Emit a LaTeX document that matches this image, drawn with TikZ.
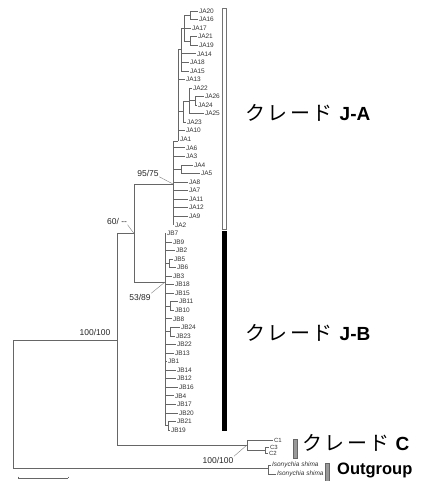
\documentclass[tikz,border=0pt]{standalone}
\usepackage{fontspec}
\usetikzlibrary{calc}
\setmainfont{Liberation Sans}
\newfontfamily\cjk{Noto Sans CJK JP}
\newcommand\kurede{{\cjk\fontsize{20}{20}\selectfont ク\kern2.5ptレ\kern2.5ptー\kern2.5ptド}}
\begin{document}
\begin{tikzpicture}[x=1pt,y=-1pt,
  br/.style={draw=black!60,line width=0.7pt},
  lf/.style={anchor=west,inner sep=0.8pt,font=\fontsize{6.5}{7}\selectfont,text=black!80},
  lfs/.style={lf,font=\fontsize{6}{7}\selectfont},
  lfi/.style={lf,font=\fontsize{6.5}{7}\selectfont\itshape},
  bs/.style={inner sep=0.5pt,font=\fontsize{8.5}{9}\selectfont,text=black!85},
  ld/.style={draw=black!50,line width=0.4pt},
  clade/.style={anchor=west,inner sep=0pt},
]
\useasboundingbox (0,0) rectangle (420,481);
% internal nodes
\coordinate (R) at (13,400);
\coordinate (JC) at (117,340);
\coordinate (OG) at (268,468);
\coordinate (J) at (134,233.5);
\coordinate (C) at (247,445);
\coordinate (PC) at (265,450.5);
\coordinate (JA) at (173,184);
\coordinate (JB) at (165,282);
\coordinate (U) at (178,141);
\coordinate (X) at (181,49);
\coordinate (A) at (184,28.1);
\coordinate (P2016) at (190,15.3);
\coordinate (P2119) at (190,41);
\coordinate (Y) at (183,111);
\coordinate (Z) at (189,101);
\coordinate (W) at (195,100.8);
\coordinate (P45) at (181,169.2);
\coordinate (P56) at (169,263.2);
\coordinate (P1110) at (170,305.9);
\coordinate (P2423) at (170,331.7);
\coordinate (P2119b) at (168,425.7);
% leaves
\foreach \n/\x/\y in {JA20/198/11,JA16/198/19.6,JA17/191/28.1,JA21/197/36.7,JA19/198/45.2,
  JA14/196/53.8,JA18/189/62.3,JA15/189/70.9,JA13/185/79.4,JA22/192/88,JA26/204/96.5,
  JA24/197/105,JA25/204/113.6,JA23/186/122,JA10/185/130.7,JA1/179/139,JA6/185/147.8,
  JA3/185/156.3,JA4/193/164.9,JA5/200/173.5,JA8/188/182,JA7/188/190.6,JA11/188/199.1,
  JA12/188/207.7,JA9/188/216.2,JA2/174/224.8,
  JB7/166/233.3,JB9/172/241.9,JB2/175/250.4,JB5/173/259,JB6/176/267.5,JB3/172/276.1,
  JB18/174/284.6,JB15/174/293.2,JB11/178/301.7,JB10/174/310.3,JB8/172/318.8,
  JB24/180/327.4,JB23/175/335.9,JB22/176/344.5,JB13/174/353,JB1/167/361.6,
  JB14/176/370.1,JB12/176/378.7,JB16/178/387.2,JB4/174/395.8,JB17/176/404.3,
  JB20/178/412.9,JB21/176/421.4,JB19/170/430}
  \node[lf] (\n) at (\x,\y) {\n};
\node[lfs] (C1) at (273,440) {C1};
\node[lfs] (C3) at (269,447.5) {C3};
\node[lfs] (C2) at (268,453.5) {C2};
\node[lfi] (og1) at (271,465) {Isonychia shima};
\node[lfi] (og2) at (276,474) {Isonychia shima};
% internal branches
\foreach \p/\c in {R/JC,JC/J,JC/C,J/JA,J/JB,JA/U,JA/P45,U/X,U/Y,X/A,A/P2016,A/P2119,
  Y/Z,Z/W,JB/P56,JB/P1110,JB/P2423,JB/P2119b,C/PC}
  \draw[br] (\p) |- (\c);
\draw[br] (R) |- (OG);
% leaf branches
\foreach \p/\c in {P2016/JA20,P2016/JA16,A/JA17,P2119/JA21,P2119/JA19,X/JA14,X/JA18,X/JA15,
  U/JA13,Z/JA22,W/JA26,W/JA24,Z/JA25,Y/JA23,U/JA10,U/JA1,JA/JA6,JA/JA3,P45/JA4,P45/JA5,
  JA/JA8,JA/JA7,JA/JA11,JA/JA12,JA/JA9,JA/JA2,
  JB/JB7,JB/JB9,JB/JB2,P56/JB5,P56/JB6,JB/JB3,JB/JB18,JB/JB15,P1110/JB11,P1110/JB10,
  JB/JB8,P2423/JB24,P2423/JB23,JB/JB22,JB/JB13,JB/JB1,JB/JB14,JB/JB12,JB/JB16,JB/JB4,
  JB/JB17,JB/JB20,P2119b/JB21,P2119b/JB19,C/C1,PC/C3,PC/C2,OG/og1,OG/og2}
  \draw[br] (\p) |- (\c.west);
% bootstrap labels
\node[bs] (bsA) at (148,173) {95/75};
\node[bs] (bsJ) at (117,221) {60/ -{}-};
\node[bs] (bsB) at (140,297) {53/89};
\node[bs] (bsC) at (218,460) {100/100};
\node[bs] (bsR) at (95,332) {100/100};
\draw[ld] (bsA.south east) -- (JA);
\draw[ld] (bsJ.south east) -- (J);
\draw[ld] (bsB.north east) -- (JB);
\draw[ld] (bsC.north east) -- (C);
% clade bars
\draw[draw=black!55,fill=white,line width=0.8pt] (222.5,8) rectangle (226.5,229);
\fill[black] (222.3,231) rectangle (226.7,431);
\draw[draw=black!60,fill=black!40,line width=0.5pt] (293,439) rectangle (297,458);
\draw[draw=black!60,fill=black!40,line width=0.5pt] (325.5,463) rectangle (329.5,481);
% clade names
\node[clade] (tJA) at (245,113) {\kurede\hspace{7pt}{\bfseries\fontsize{19}{19}\selectfont J-A}};
\node[clade] (tJB) at (245,333) {\kurede\hspace{7pt}{\bfseries\fontsize{19}{19}\selectfont J-B}};
\node[clade] (tC) at (302,443) {\kurede\hspace{6pt}{\bfseries\fontsize{19}{19}\selectfont C}};
\node[clade] (tOG) at (337,470) {\bfseries\fontsize{16.5}{17}\selectfont Outgroup};
% scale bar
\coordinate (sb1) at (18,478);
\coordinate (sb2) at (68,478);
\draw[br] (sb1) -- (sb2);
\draw[br] ($(sb1)+(0,-1.5)$) -- (sb1);
\draw[br] ($(sb2)+(0,-1.5)$) -- (sb2);
\end{tikzpicture}
\end{document}
